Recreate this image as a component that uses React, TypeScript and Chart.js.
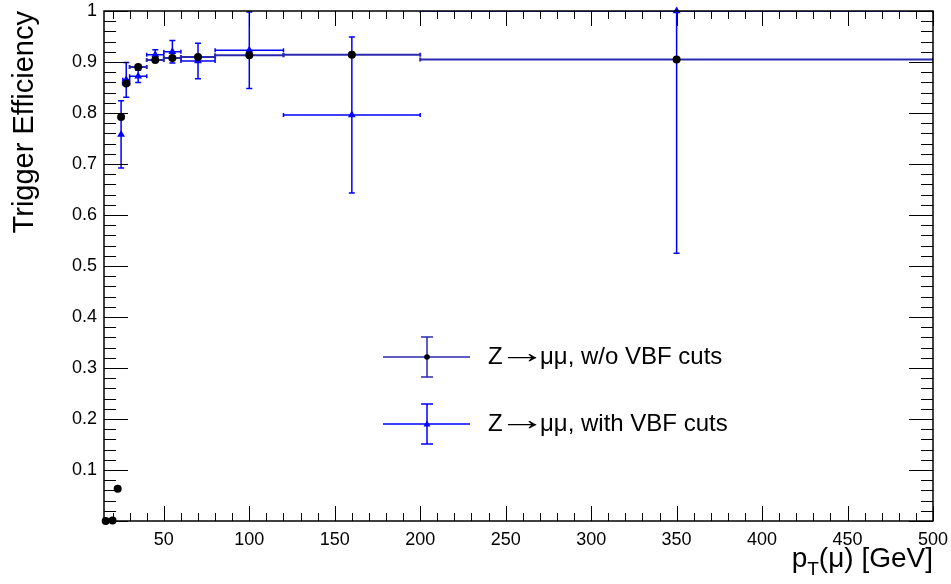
import { useEffect, useRef } from 'react';
import { Chart, registerables } from 'chart.js';
Chart.register(...registerables);

// ---- data: without VBF cuts (black circles) ----
const ptNoVbf = [16, 20, 23, 25, 28, 35, 45, 55, 70, 100, 160, 350];
const effNoVbf = [0.0, 0.001, 0.063, 0.792, 0.858, 0.89, 0.904, 0.908, 0.91, 0.913, 0.914, 0.905];
const errNoVbf = [0, 0, 0.006, 0.006, 0.005, 0.004, 0.004, 0.004, 0.004, 0.005, 0.006, 0.008];
const binLoNoVbf = [16, 20, 23, 25, 26, 30, 40, 50, 60, 80, 120, 200];
const binHiNoVbf = [16, 20, 23, 25, 30, 40, 50, 60, 80, 120, 200, 500];

// ---- data: with VBF cuts (blue triangles) ----
const ptVbf = [25, 28, 35, 45, 55, 70, 100, 160, 350];
const effVbf = [0.758, 0.865, 0.872, 0.914, 0.92, 0.902, 0.923, 0.796, 1.0];
const errVbf = [0.066, 0.034, 0.012, 0.01, 0.022, 0.035, 0.075, 0.153, 0.475];
const binLoVbf = [25, 26, 30, 40, 50, 60, 80, 120, 200];
const binHiVbf = [25, 30, 40, 50, 60, 80, 120, 200, 500];

// ---- axis ticks ----
const xTicks = [50, 100, 150, 200, 250, 300, 350, 400, 450, 500];
const yTicks = [0, 0.1, 0.2, 0.3, 0.4, 0.5, 0.6, 0.7, 0.8, 0.9, 1];
const xMin = 15, xMax = 500, yMin = 0, yMax = 1;

const legendHead = 'Z';
const legendArrow = '\u2192';
const legendTails = ['\u03bc\u03bc, w/o VBF cuts', '\u03bc\u03bc, with VBF cuts'];
const legendLabels = legendTails.map((t) => legendHead + legendArrow + t);

const NAVY = '#2a2ab0';
const BLUE = '#0000ff';
const FONT = '"Liberation Sans", Arial, Helvetica, sans-serif';
const AREA = { left: 104, top: 11, right: 933, bottom: 521 };

const zeroPad = (s: any) => {
  s.paddingTop = 0; s.paddingBottom = 0; s.paddingLeft = 0; s.paddingRight = 0;
};

const rootPlugin = {
  id: 'rootStyle',
  beforeDatasetsDraw(chart: any) {
    const { ctx, chartArea } = chart;
    const xs = chart.scales.x, ys = chart.scales.y;
    const clampY = (v: number) => Math.max(yMin, Math.min(yMax, v));
    const drawErr = (xv: number[], yv: number[], ye: number[], lo: number[], hi: number[], color: string, lw: number) => {
      ctx.save();
      ctx.strokeStyle = color;
      ctx.lineWidth = lw;
      for (let i = 0; i < xv.length; i++) {
        const px = xs.getPixelForValue(xv[i]);
        const py = ys.getPixelForValue(yv[i]);
        if (hi[i] > lo[i]) {
          const x1 = xs.getPixelForValue(lo[i]);
          const x2 = xs.getPixelForValue(hi[i]);
          ctx.beginPath();
          ctx.moveTo(x1, py); ctx.lineTo(x2, py);
          ctx.moveTo(x1, py - 2); ctx.lineTo(x1, py + 2);
          ctx.moveTo(x2, py - 2); ctx.lineTo(x2, py + 2);
          ctx.stroke();
        }
        if (ye[i] > 0) {
          const yTop = clampY(yv[i] + ye[i]);
          const yBot = clampY(yv[i] - ye[i]);
          const p1 = ys.getPixelForValue(yTop);
          const p2 = ys.getPixelForValue(yBot);
          if (p2 - p1 < 10) continue;
          ctx.beginPath();
          ctx.moveTo(px, p1); ctx.lineTo(px, p2);
          if (yTop < yMax) { ctx.moveTo(px - 3, p1); ctx.lineTo(px + 3, p1); }
          if (yBot > yMin) { ctx.moveTo(px - 3, p2); ctx.lineTo(px + 3, p2); }
          ctx.stroke();
        }
      }
      ctx.restore();
    };
    ctx.save();
    ctx.beginPath();
    ctx.rect(chartArea.left, chartArea.top, chartArea.right - chartArea.left, chartArea.bottom - chartArea.top);
    ctx.clip();
    drawErr(ptVbf, effVbf, errVbf, binLoVbf, binHiVbf, BLUE, 1.5);
    drawErr(ptNoVbf, effNoVbf, errNoVbf, binLoNoVbf, binHiNoVbf, NAVY, 2);
    ctx.restore();
  },
  afterDraw(chart: any) {
    const { ctx, chartArea } = chart;
    const xs = chart.scales.x, ys = chart.scales.y;
    const L = chartArea.left, R = chartArea.right, T = chartArea.top, B = chartArea.bottom;
    ctx.save();
    ctx.strokeStyle = '#000';
    ctx.lineWidth = 1.5;
    ctx.strokeRect(L, T, R - L, B - T);
    ctx.lineWidth = 1;
    ctx.beginPath();
    for (let v = 20; v <= 500; v += 10) {
      const px = Math.round(xs.getPixelForValue(v)) + 0.5;
      const len = v % 50 === 0 ? 15 : 8;
      ctx.moveTo(px, B); ctx.lineTo(px, B - len);
      ctx.moveTo(px, T); ctx.lineTo(px, T + len);
    }
    for (let k = 0; k <= 50; k++) {
      const v = k * 0.02;
      const py = Math.round(ys.getPixelForValue(v)) + 0.5;
      const len = k % 5 === 0 ? 24 : 12;
      ctx.moveTo(L, py); ctx.lineTo(L + len, py);
      ctx.moveTo(R, py); ctx.lineTo(R - len, py);
    }
    ctx.stroke();

    // axis titles
    ctx.fillStyle = '#000';
    ctx.textBaseline = 'alphabetic';
    const big = `28px ${FONT}`;
    const small = `19px ${FONT}`;
    ctx.font = big;
    const wP = ctx.measureText('p').width;
    const wRest = ctx.measureText('(\u03bc) [GeV]').width;
    ctx.font = small;
    const wT = ctx.measureText('T').width;
    const x0 = R - (wP + wT + wRest);
    const base = 567;
    ctx.font = big;
    ctx.textAlign = 'left';
    ctx.fillText('p', x0, base);
    ctx.font = small;
    ctx.fillText('T', x0 + wP, base + 8);
    ctx.font = big;
    ctx.fillText('(\u03bc) [GeV]', x0 + wP + wT, base);

    ctx.save();
    ctx.translate(33, T);
    ctx.rotate(-Math.PI / 2);
    ctx.textAlign = 'right';
    ctx.font = `29px ${FONT}`;
    ctx.fillText('Trigger Efficiency', 0, 0);
    ctx.restore();

    // legend
    const entries = [
      { y: 357, color: NAVY, marker: 'circle', tail: legendTails[0] },
      { y: 424, color: BLUE, marker: 'triangle', tail: legendTails[1] },
    ];
    for (const e of entries) {
      ctx.strokeStyle = e.color;
      ctx.lineWidth = 1.5;
      ctx.beginPath();
      ctx.moveTo(383, e.y); ctx.lineTo(470, e.y);
      ctx.moveTo(427, e.y - 20); ctx.lineTo(427, e.y + 20);
      ctx.moveTo(421, e.y - 20); ctx.lineTo(433, e.y - 20);
      ctx.moveTo(421, e.y + 20); ctx.lineTo(433, e.y + 20);
      ctx.stroke();
      if (e.marker === 'circle') {
        ctx.fillStyle = '#000';
        ctx.beginPath(); ctx.arc(427, e.y, 2.8, 0, Math.PI * 2); ctx.fill();
      } else {
        ctx.fillStyle = BLUE;
        ctx.beginPath();
        ctx.moveTo(427, e.y - 3.5); ctx.lineTo(430.5, e.y + 2.5); ctx.lineTo(423.5, e.y + 2.5);
        ctx.closePath(); ctx.fill();
      }
      ctx.fillStyle = '#000';
      ctx.font = `24px ${FONT}`;
      ctx.textAlign = 'left';
      ctx.textBaseline = 'middle';
      ctx.fillText(legendHead, 488, e.y);
      // wide arrow: scale the glyph ink to span x 506..538
      const m = ctx.measureText(legendArrow);
      const inkL = -(m.actualBoundingBoxLeft || 0);
      const inkR = m.actualBoundingBoxRight || m.width;
      const inkW = Math.max(1, inkR - inkL);
      const sx = 32 / inkW;
      ctx.save();
      ctx.translate(506 - inkL * sx, e.y - 3);
      ctx.scale(sx, 1.3);
      ctx.fillText(legendArrow, 0, 0);
      ctx.restore();
      ctx.fillText(e.tail, 540, e.y);
    }
    ctx.restore();
  },
};

export default function App() {
  const ref = useRef<HTMLCanvasElement>(null);
  useEffect(() => {
    if (!ref.current) return;
    const chart: any = new Chart(ref.current, {
      type: 'scatter',
      data: {
        datasets: [
          {
            label: legendLabels[0],
            data: ptNoVbf.map((x, i) => ({ x, y: effNoVbf[i] })),
            pointStyle: 'circle',
            pointRadius: 4,
            pointBackgroundColor: '#000',
            pointBorderColor: '#000',
            pointBorderWidth: 0,
            showLine: false,
            clip: false,
          },
          {
            label: legendLabels[1],
            data: ptVbf.map((x, i) => ({ x, y: effVbf[i] })),
            pointStyle: 'triangle',
            pointRadius: 4.5,
            pointBackgroundColor: BLUE,
            pointBorderColor: BLUE,
            pointBorderWidth: 0,
            showLine: false,
            clip: false,
          },
        ],
      },
      options: {
        animation: false,
        responsive: false,
        events: [],
        layout: { padding: { top: 11, right: 18, left: 0, bottom: 0 } },
        plugins: { legend: { display: false }, tooltip: { enabled: false } },
        scales: {
          x: {
            type: 'linear',
            min: xMin,
            max: xMax,
            grid: { display: false, drawTicks: false },
            border: { display: false },
            afterBuildTicks: (s: any) => { s.ticks = xTicks.map((v) => ({ value: v })); },
            afterFit: (s: any) => { s.height = 63; zeroPad(s); },
            ticks: {
              padding: 8,
              maxRotation: 0,
              autoSkip: false,
              color: '#000',
              font: { family: FONT, size: 18 },
              callback: (v: any) => String(v),
            },
          },
          y: {
            type: 'linear',
            min: yMin,
            max: yMax,
            grid: { display: false, drawTicks: false },
            border: { display: false },
            afterBuildTicks: (s: any) => { s.ticks = yTicks.map((v) => ({ value: v })); },
            afterFit: (s: any) => { s.width = 104; zeroPad(s); },
            ticks: {
              padding: 7,
              autoSkip: false,
              color: '#000',
              font: { family: FONT, size: 18 },
              callback: (v: any) => (v === 0 ? '' : v === 1 ? '1' : Number(v).toFixed(1)),
            },
          },
        },
      },
      plugins: [rootPlugin],
    } as any);
    for (let iter = 0; iter < 3; iter++) {
      const ca = chart.chartArea;
      const p = chart.options.layout.padding;
      const dt = ca.top - AREA.top;
      const dr = AREA.right - ca.right;
      const dl = ca.left - AREA.left;
      const db = AREA.bottom - ca.bottom;
      if (Math.abs(dt) < 0.5 && Math.abs(dr) < 0.5 && Math.abs(dl) < 0.5 && Math.abs(db) < 0.5) break;
      chart.options.layout.padding = {
        top: Math.max(0, p.top - dt),
        right: Math.max(0, p.right - dr),
        left: Math.max(0, p.left - dl),
        bottom: Math.max(0, p.bottom - db),
      };
      chart.update();
    }
    return () => chart.destroy();
  }, []);
  return (
    <div style={{ position: 'fixed', left: 0, top: 0, width: 951, height: 584, background: '#fff' }}>
      <canvas ref={ref} width={951} height={584} style={{ display: 'block', width: 951, height: 584 }} />
    </div>
  );
}
